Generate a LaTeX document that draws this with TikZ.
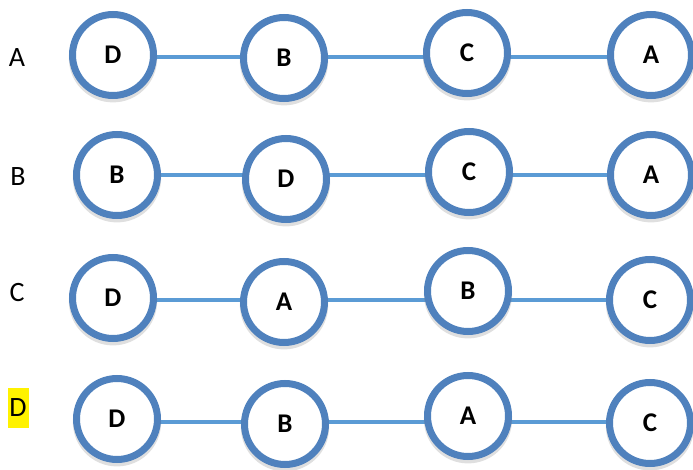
\documentclass[tikz,border=0pt]{standalone}
\usepackage{fontspec}
\setmainfont{Carlito}
\usetikzlibrary{shadows,backgrounds}
\definecolor{ringblue}{RGB}{79,129,189}
\definecolor{linkblue}{RGB}{91,155,213}
\tikzset{
  vtx/.style={circle, draw=ringblue, line width=7pt, fill=white, minimum size=81pt, inner sep=0pt,
    font=\fontsize{27}{27}\selectfont\bfseries,
    drop shadow={opacity=0.25, shadow xshift=0pt, shadow yshift=-3pt, shadow scale=1.09}},
  link/.style={draw=linkblue, line width=4pt},
  rowlab/.style={font=\fontsize{28}{28}\selectfont, inner sep=0pt}
}
\begin{document}
\begin{tikzpicture}[x=1pt,y=-1pt]
\useasboundingbox (0,0) rectangle (693,470);
% answer labels
\node[rowlab] (la) at (17,58) {A};
\node[rowlab] (lb) at (18,177) {B};
\node[rowlab] (lc) at (17,293) {C};
\node[rowlab, fill=yellow, minimum width=21pt, minimum height=40pt] (ld) at (18,408) {D};
% row heights of the links
\coordinate (ya) at (0,57);
\coordinate (yb) at (0,175);
\coordinate (yc) at (0,300);
\coordinate (yd) at (0,422);
% row A
\node[vtx] (a1) at (113,55) {D};
\node[vtx] (a2) at (284,58) {B};
\node[vtx] (a3) at (467,53) {C};
\node[vtx] (a4) at (651,55) {A};
% row B
\node[vtx] (b1) at (117,175) {B};
\node[vtx] (b2) at (286,179) {D};
\node[vtx] (b3) at (469,172) {C};
\node[vtx] (b4) at (651,175) {A};
% row C
\node[vtx] (c1) at (113,298) {D};
\node[vtx] (c2) at (284,302) {A};
\node[vtx] (c3) at (468,291) {B};
\node[vtx] (c4) at (650,300) {C};
% row D
\node[vtx] (d1) at (117,419) {D};
\node[vtx] (d2) at (285,424) {B};
\node[vtx] (d3) at (468,416) {A};
\node[vtx] (d4) at (650,423) {C};
% links
\begin{scope}[on background layer]
\foreach \r in {a,b,c,d}
  \draw[link] (\r1 |- y\r)--(\r4 |- y\r);
\end{scope}
\end{tikzpicture}
\end{document}
